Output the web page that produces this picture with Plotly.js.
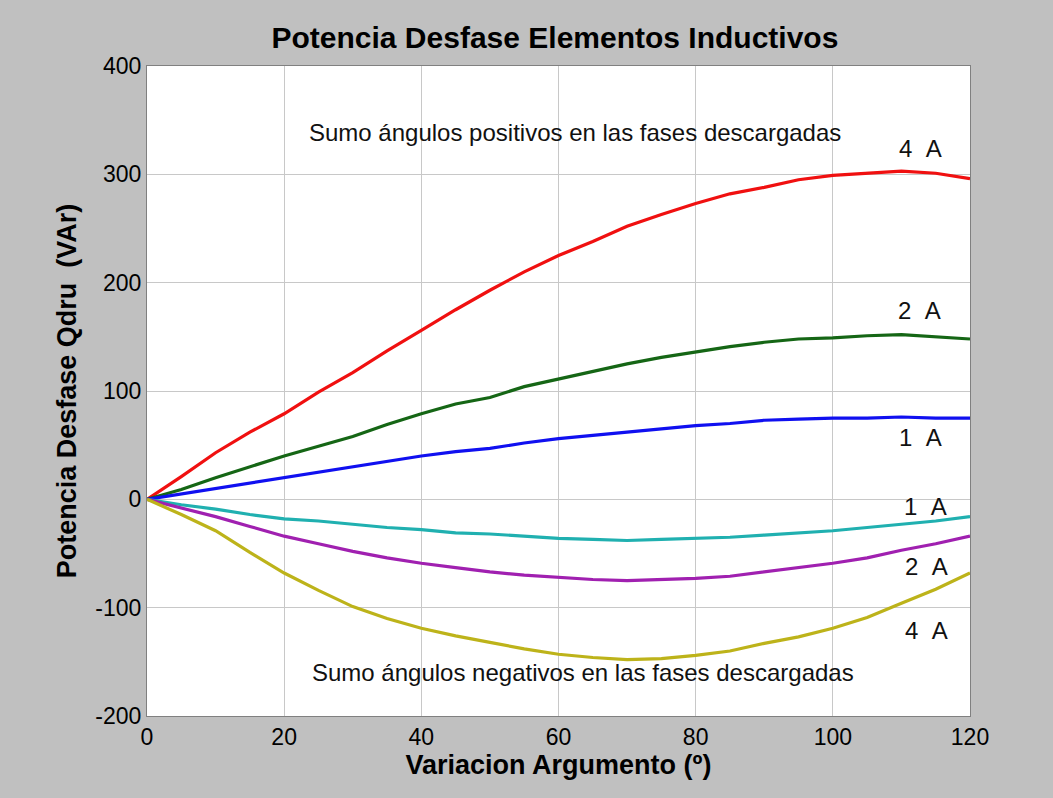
<!DOCTYPE html>
<html>
<head>
<meta charset="utf-8">
<script src="https://cdn.plot.ly/plotly-3.0.1.min.js"></script>
<style>html,body{margin:0;padding:0;background:#c0c0c0;}#chart{width:1053px;height:798px;}</style>
</head>
<body>
<div id="chart"></div>
<script>
const angles = [0,5,10,15,20,25,30,35,40,45,50,55,60,65,70,75,80,85,90,95,100,105,110,115,120];
const pos4A = [0,21,43,62,79,99,117,137,156,175,193,210,225,238,252,263,273,282,288,295,299,301,303,301,296];
const pos2A = [0,9,20,30,40,49,58,69,79,88,94,104,111,118,125,131,136,141,145,148,149,151,152,150,148];
const pos1A = [0,5,10,15,20,25,30,35,40,44,47,52,56,59,62,65,68,70,73,74,75,75,76,75,75];
const neg1A = [0,-5,-9,-14,-18,-20,-23,-26,-28,-31,-32,-34,-36,-37,-38,-37,-36,-35,-33,-31,-29,-26,-23,-20,-16];
const neg2A = [0,-8,-16,-25,-34,-41,-48,-54,-59,-63,-67,-70,-72,-74,-75,-74,-73,-71,-67,-63,-59,-54,-47,-41,-34];
const neg4A = [0,-14,-29,-49,-68,-84,-99,-110,-119,-126,-132,-138,-143,-146,-148,-147,-144,-140,-133,-127,-119,-109,-96,-83,-68];

const xTicks = [0,20,40,60,80,100,120];
const yTicks = [-200,-100,0,100,200,300,400];
const yTickText = ['-200','-100','0','100','200','300','400'];

const seriesNames = ['4 A','2 A','1 A','1 A','2 A','4 A'];
const seriesData = [pos4A,pos2A,pos1A,neg1A,neg2A,neg4A];
const colors = ['#f01010','#156615','#1010f0','#20b0b0','#a020b0','#bdb31a'];

const FONT = 'Liberation Sans, Arial, sans-serif';

const traces = seriesData.map((ys,i)=>({
  x: angles, y: ys, type:'scatter', mode:'lines', name: seriesNames[i],
  line:{color:colors[i], width:3.2}, showlegend:false, hoverinfo:'skip'
}));

const labelX = [112.8,112.6,112.8,113.5,113.6,113.6];
const labelY = [324,174,57,-7,-62,-121];
const notes = [
  {x:62.4, y:339, text:'Sumo ángulos positivos en las fases descargadas'},
  {x:63.6, y:-160, text:'Sumo ángulos negativos en las fases descargadas'}
];
const annotations = notes.map(n=>({x:n.x,y:n.y,text:n.text,showarrow:false,xref:'x',yref:'y',
  font:{family:FONT, size:24, color:'#111'}}))
  .concat(seriesNames.map((t,i)=>({x:labelX[i],y:labelY[i],text:t.replace(' ','&nbsp;&nbsp;'),showarrow:false,xref:'x',yref:'y',
  font:{family:FONT, size:24, color:'#111'}})));

const layout = {
  width:1053, height:798,
  paper_bgcolor:'#c0c0c0', plot_bgcolor:'#ffffff',
  margin:{l:147, r:83, t:66, b:82},
  title:{text:'<b>Potencia Desfase Elementos Inductivos</b>', x:0.527, xanchor:'center', y:0.953, yanchor:'middle',
    font:{family:FONT, size:30, color:'#000'}},
  xaxis:{range:[0,120], tickvals:xTicks, showgrid:true, gridcolor:'#c8c8c8', gridwidth:1,
    zeroline:false, showline:true, linecolor:'#808080', linewidth:1, mirror:true, ticks:'',
    tickfont:{family:FONT, size:23, color:'#000'},
    title:{text:'<b>Variacion Argumento (º)</b>', standoff:6, font:{family:FONT, size:27, color:'#000'}}},
  yaxis:{range:[-200,400], tickvals:yTicks, ticktext:yTickText, showgrid:true, gridcolor:'#c8c8c8', gridwidth:1,
    zeroline:false, showline:true, linecolor:'#808080', linewidth:1, mirror:true, ticks:'',
    tickfont:{family:FONT, size:23, color:'#000'},
    title:{text:'<b>Potencia Desfase Qdru  (VAr)</b>', standoff:10, font:{family:FONT, size:27, color:'#000'}}},
  annotations: annotations
};
Plotly.newPlot('chart', traces, layout, {displayModeBar:false, staticPlot:true});
</script>
</body>
</html>
